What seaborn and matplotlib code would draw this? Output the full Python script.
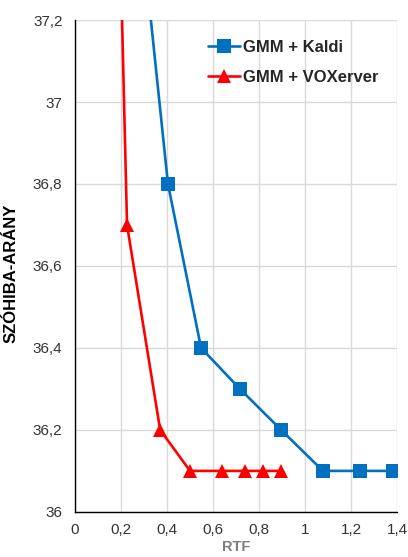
import matplotlib
matplotlib.use("Agg")
import matplotlib.pyplot as plt
from matplotlib.ticker import FuncFormatter, MultipleLocator
import seaborn as sns

# RTF / szóhiba-arány értékek (az első pont a diagram tetején túl van)
kaldi_rtf = [0.30, 0.404, 0.548, 0.717, 0.896, 1.078, 1.239, 1.383]
kaldi_wer = [37.36, 36.8, 36.4, 36.3, 36.2, 36.1, 36.1, 36.1]

vox_rtf = [0.20, 0.226, 0.37, 0.50, 0.64, 0.74, 0.817, 0.896]
vox_wer = [37.30, 36.7, 36.2, 36.1, 36.1, 36.1, 36.1, 36.1]

sns.set_theme(style="whitegrid")
plt.rcParams['font.family'] = ['Liberation Sans', 'DejaVu Sans']

fig = plt.figure(figsize=(4.08, 5.57), dpi=100)
ax = fig.add_axes([0.184, 0.081, 0.789, 0.883])

sns.lineplot(x=kaldi_rtf, y=kaldi_wer, color='#0070C0', marker='s', markersize=9.5,
             markeredgewidth=0, linewidth=1.9, label='GMM + Kaldi', ax=ax)
sns.lineplot(x=vox_rtf, y=vox_wer, color='#FF0000', marker='^', markersize=10,
             markeredgewidth=0, linewidth=1.9, label='GMM + VOXerver', ax=ax)

ax.set_xlim(0, 1.4)
ax.set_ylim(36, 37.2)
ax.xaxis.set_major_locator(MultipleLocator(0.2))
ax.yaxis.set_major_locator(MultipleLocator(0.2))

def vesszo(v, pos):
    s = f"{v:.1f}".rstrip('0').rstrip('.')
    return s.replace('.', ',')

ax.xaxis.set_major_formatter(FuncFormatter(vesszo))
ax.yaxis.set_major_formatter(FuncFormatter(vesszo))
ax.tick_params(axis='both', labelsize=11, colors='#333333', length=0)
ax.tick_params(axis='x', pad=8)
ax.tick_params(axis='y', pad=9)

ax.grid(True, color='#d9d9d9', linewidth=1)
for side in ['top', 'right']:
    ax.spines[side].set_visible(False)
for side in ['left', 'bottom']:
    ax.spines[side].set_color('black')
    ax.spines[side].set_linewidth(1)

ax.set_xlabel('RTF', fontsize=10.5, fontweight='bold', color='#7f7f7f', labelpad=2)
ax.set_ylabel('SZÓHIBA-ARÁNY', fontsize=12, fontweight='bold', color='black', labelpad=12)
ax.yaxis.set_label_coords(-0.175, 0.485)

leg = ax.legend(loc='upper left', bbox_to_anchor=(0.413, 0.96), frameon=False,
                prop={'weight': 'bold', 'size': 12}, handlelength=1.9,
                handletextpad=0.2, labelspacing=0.9, borderpad=0, borderaxespad=0)

plt.savefig('out.png', dpi=100)
